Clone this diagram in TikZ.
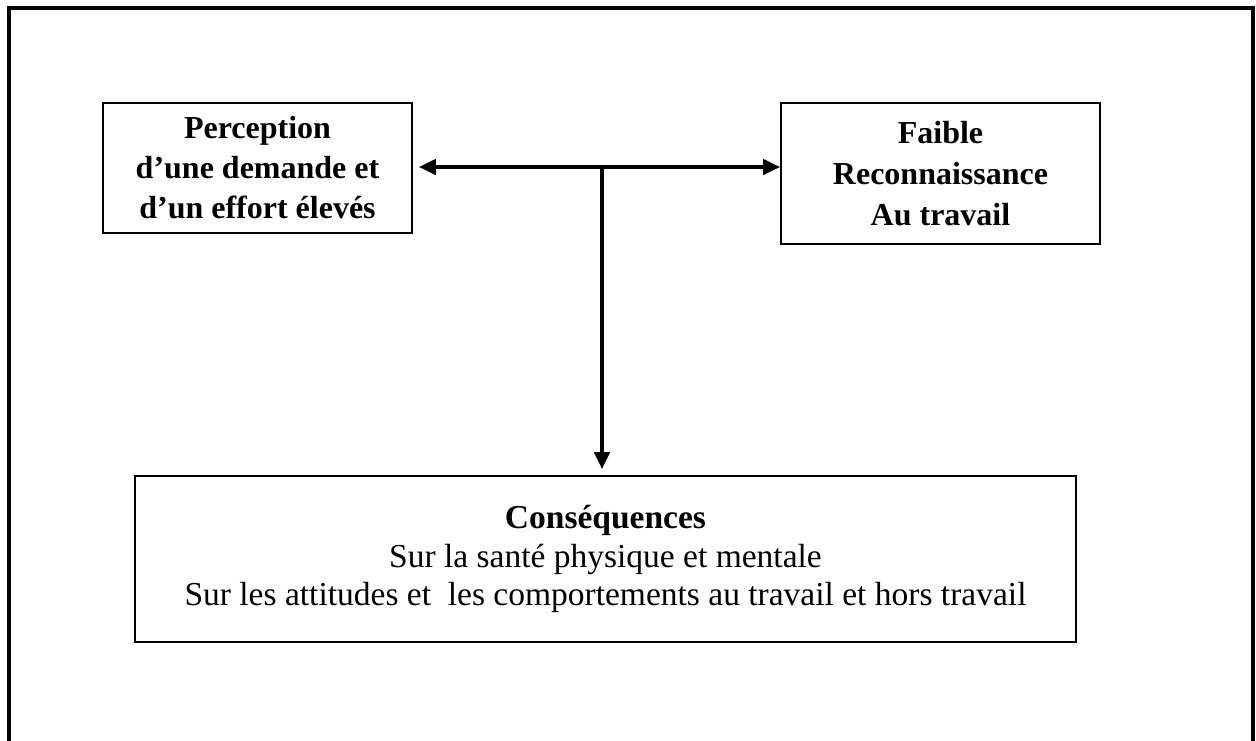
\documentclass[tikz,border=0pt]{standalone}
\usepackage{fontspec}
\setmainfont{Liberation Serif}
\usepackage{tikz}
\usetikzlibrary{arrows.meta, positioning}

\begin{document}
\begin{tikzpicture}[x=1pt, y=-1pt,
    boite/.style={draw, line width=1.6pt, inner sep=0pt, align=center},
    lien/.style={line width=4pt, -{Triangle[length=17pt,width=15pt]}}]
    \useasboundingbox (0,0) rectangle (1256,740);
    % Cadre ouvert en bas
    \draw[line width=4pt] (9,745) -- (9,8) -- (1253,8) -- (1253,745);
    % Les trois boites
    \node[boite, minimum width=309, minimum height=130,
          font=\fontsize{32}{40}\selectfont\bfseries] (perc) at (257.5,168)
        {Perception\\d'une demande et\\d'un effort élevés};
    \node[boite, minimum width=319, minimum height=141,
          font=\fontsize{32}{41}\selectfont\bfseries] (faible) at (940.5,173.5)
        {Faible\\Reconnaissance\\Au travail};
    \node[boite, minimum width=941, minimum height=166,
          font=\fontsize{33.5}{38.5}\selectfont] (cons) at (605.5,559)
        {\textbf{Conséquences}\\Sur la santé physique et mentale\\Sur les attitudes et \ les comportements au travail et hors travail};
    % Fleches
    \coordinate (mid) at (602,167);
    \draw[lien, {Triangle[length=17pt,width=15pt]}-{Triangle[length=17pt,width=15pt]}, shorten <=6pt]
        (perc.east |- mid) -- (faible.west |- mid);
    \draw[lien] (mid) -- (mid |- cons.north) [shorten >=6pt];
\end{tikzpicture}
\end{document}
